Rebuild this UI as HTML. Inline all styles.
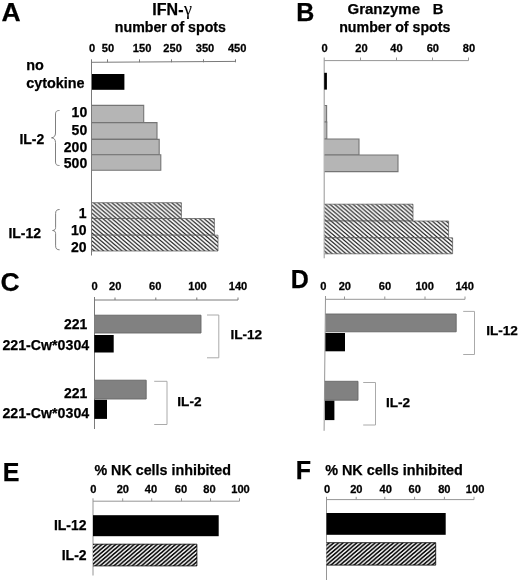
<!DOCTYPE html>
<html><head><meta charset="utf-8"><title>Figure</title>
<style>
html,body{margin:0;padding:0;background:#fff;}
svg{display:block;will-change:transform;}
text{font-family:"Liberation Sans",Arial,Helvetica,sans-serif;font-weight:bold;fill:#000;stroke:#000;stroke-width:0.25px;}
.ax{stroke:#7a7a7a;stroke-width:1;fill:none;}
.axl{stroke:#969696;stroke-width:1;fill:none;}
.br{stroke:#aaa;stroke-width:1;fill:none;}
.bc{stroke:#707070;stroke-width:0.9;fill:none;}
.lg{fill:#b6b6b6;stroke:#707070;stroke-width:1;}
.dg{fill:#808080;stroke:#6a6a6a;stroke-width:1;}
.bk{fill:#000;}
</style></head><body>
<svg width="520" height="581" viewBox="0 0 520 581">
<defs>
<pattern id="h1" width="4.6" height="3.95" patternUnits="userSpaceOnUse">
<rect width="4.6" height="3.95" fill="#fff"/>
<path d="M-4.6,-3.95 L9.2,7.9 M-4.6,0 L4.6,7.9 M0,-3.95 L9.2,3.95" stroke="#181818" stroke-width="1.2"/>
</pattern>
<pattern id="h2" width="4.6" height="3.95" patternUnits="userSpaceOnUse">
<rect width="4.6" height="3.95" fill="#fff"/>
<path d="M-4.6,7.9 L9.2,-3.95 M-4.6,3.95 L4.6,-3.95 M0,7.9 L9.2,0" stroke="#000" stroke-width="1.65"/>
</pattern>
</defs>
<rect width="520" height="581" fill="#fff"/>

<text x="1.6" y="21.2" font-size="26.5" text-anchor="start" >A</text>
<text x="296.2" y="20.8" font-size="25" text-anchor="start" >B</text>
<text x="0.6" y="290.8" font-size="26.5" text-anchor="start" >C</text>
<text x="290.7" y="287.5" font-size="25" text-anchor="start" >D</text>
<text x="2.7" y="481.2" font-size="25" text-anchor="start" >E</text>
<text x="295.7" y="478.6" font-size="25" text-anchor="start" >F</text>
<text x="152.2" y="15" font-size="16" text-anchor="start" >IFN</text>
<text x="178.2" y="15" font-size="16" text-anchor="start" >-</text>
<text x="184" y="15" font-size="18" style="font-weight:normal;stroke-width:0.1px;font-family:'Liberation Serif',serif">γ</text>
<text x="114.8" y="31.8" font-size="14.2" text-anchor="start" >number of spots</text>
<text transform="translate(92.2,51.8) scale(1.06,1)" font-size="10.5" text-anchor="middle">0</text>
<text transform="translate(108,51.8) scale(1.06,1)" font-size="10.5" text-anchor="middle">50</text>
<text transform="translate(142.1,51.8) scale(1.06,1)" font-size="10.5" text-anchor="middle">150</text>
<text transform="translate(172.6,51.8) scale(1.06,1)" font-size="10.5" text-anchor="middle">250</text>
<text transform="translate(205,51.8) scale(1.06,1)" font-size="10.5" text-anchor="middle">350</text>
<text transform="translate(237.2,51.8) scale(1.06,1)" font-size="10.5" text-anchor="middle">450</text>
<path class="ax" d="M91.5,255.5 V59.3 M91.5,62.3 L235.5,61.4"/>
<path class="ax" d="M107.5,59.3 V62.3"/>
<path class="ax" d="M139.5,59.3 V62.3"/>
<path class="ax" d="M171.5,59.3 V62.3"/>
<path class="ax" d="M203.5,59.3 V62.3"/>
<path class="ax" d="M235.5,59.3 V62.3"/>
<text x="26.2" y="70.2" font-size="14.4" text-anchor="start" >no</text>
<text x="26.2" y="88.4" font-size="14.4" text-anchor="start" >cytokine</text>
<rect class="bk" x="92" y="74" width="32.4" height="15.8"/>
<rect x="92" y="105.4" width="51.7" height="17.2" fill="#b5b5b5"/>
<path d="M92,105.4 H143.7 V122.6 H92" fill="none" stroke="#757575" stroke-width="1.1"/>
<rect x="92" y="122.6" width="65" height="16.8" fill="#b5b5b5"/>
<path d="M92,122.6 H157 V139.4 H92" fill="none" stroke="#757575" stroke-width="1.1"/>
<rect x="92" y="139.4" width="67.2" height="15.4" fill="#b5b5b5"/>
<path d="M92,139.4 H159.2 V154.8 H92" fill="none" stroke="#757575" stroke-width="1.1"/>
<rect x="92" y="154.8" width="68.8" height="15.5" fill="#b5b5b5"/>
<path d="M92,154.8 H160.8 V170.3 H92" fill="none" stroke="#757575" stroke-width="1.1"/>
<text x="87.2" y="116.8" font-size="14" text-anchor="end" >10</text>
<text x="87.2" y="134.9" font-size="14" text-anchor="end" >50</text>
<text x="87.2" y="151.8" font-size="14" text-anchor="end" >200</text>
<text x="87.2" y="168.3" font-size="14" text-anchor="end" >500</text>
<text x="19.4" y="143.6" font-size="14" text-anchor="start" >IL-2</text>
<path class="bc" d="M59.5,110.5 C56,110.5 55.5,112 55.5,115 V133 C55.5,136 54,137.5 51.5,137.8 C54,138 55.5,139.5 55.5,142.5 V161 C55.5,164 56,165.5 59.5,165.5"/>
<rect x="92" y="202.7" width="89.4" height="15.8" fill="url(#h1)"/>
<path d="M92,202.7 H181.4 V218.5 H92" fill="none" stroke="#555" stroke-width="0.7"/>
<rect x="92" y="218.5" width="122.4" height="16.7" fill="url(#h1)"/>
<path d="M92,218.5 H214.4 V235.2 H92" fill="none" stroke="#555" stroke-width="0.7"/>
<rect x="92" y="235.2" width="126" height="15.8" fill="url(#h1)"/>
<path d="M92,235.2 H218 V251 H92" fill="none" stroke="#555" stroke-width="0.7"/>
<text x="86.5" y="218" font-size="14" text-anchor="end" >1</text>
<text x="86.5" y="234.6" font-size="14" text-anchor="end" >10</text>
<text x="86.5" y="251.8" font-size="14" text-anchor="end" >20</text>
<text x="8.4" y="237.6" font-size="14" text-anchor="start" >IL-12</text>
<path class="bc" d="M59.6,209.5 C57,209.5 55.6,210.5 55.6,213.5 V227.5 C55.6,229.5 54.5,230.3 52.6,230.5 C54.5,230.7 55.6,231.5 55.6,233.5 V245.8 C55.6,248.8 57,249.8 59.6,249.8"/>
<text x="347.5" y="14" font-size="15" text-anchor="start" >Granzyme</text>
<text x="432.7" y="14" font-size="14.8" text-anchor="start" >B</text>
<text x="339.2" y="31.8" font-size="14.2" text-anchor="start" >number of spots</text>
<text transform="translate(324.5,51.8) scale(1.06,1)" font-size="10.5" text-anchor="middle">0</text>
<text transform="translate(361.4,51.8) scale(1.06,1)" font-size="10.5" text-anchor="middle">20</text>
<text transform="translate(396.5,51.8) scale(1.06,1)" font-size="10.5" text-anchor="middle">40</text>
<text transform="translate(432.8,51.8) scale(1.06,1)" font-size="10.5" text-anchor="middle">60</text>
<text transform="translate(468.9,51.8) scale(1.06,1)" font-size="10.5" text-anchor="middle">80</text>
<path class="axl" d="M324.2,258.3 V57.5 M324.2,60.6 H468.5"/>
<path class="axl" d="M360.5,57.5 V60.6"/>
<path class="axl" d="M396.5,57.5 V60.6"/>
<path class="axl" d="M432.5,57.5 V60.6"/>
<path class="axl" d="M468.5,57.5 V60.6"/>
<rect class="bk" x="324.2" y="72.8" width="2.7" height="16.8"/>
<rect x="324.7" y="105.5" width="1.9" height="16.5" fill="#b5b5b5"/>
<path d="M324.7,105.5 H326.6 V122 H324.7" fill="none" stroke="#757575" stroke-width="1.1"/>
<rect x="324.7" y="122" width="2.1" height="17" fill="#b5b5b5"/>
<path d="M324.7,122 H326.8 V139 H324.7" fill="none" stroke="#757575" stroke-width="1.1"/>
<rect x="324.7" y="139" width="34.3" height="16" fill="#b5b5b5"/>
<path d="M324.7,139 H359 V155 H324.7" fill="none" stroke="#757575" stroke-width="1.1"/>
<rect x="324.7" y="155" width="73.3" height="16.6" fill="#b5b5b5"/>
<path d="M324.7,155 H398 V171.6 H324.7" fill="none" stroke="#757575" stroke-width="1.1"/>
<rect x="324.7" y="204.2" width="88.3" height="16.8" fill="url(#h1)"/>
<path d="M324.7,204.2 H413 V221 H324.7" fill="none" stroke="#555" stroke-width="0.7"/>
<rect x="324.7" y="221" width="123.9" height="16.8" fill="url(#h1)"/>
<path d="M324.7,221 H448.6 V237.8 H324.7" fill="none" stroke="#555" stroke-width="0.7"/>
<rect x="324.7" y="237.8" width="127.9" height="16.0" fill="url(#h1)"/>
<path d="M324.7,237.8 H452.6 V253.8 H324.7" fill="none" stroke="#555" stroke-width="0.7"/>
<text transform="translate(94.6,290) scale(1.06,1)" font-size="10.5" text-anchor="middle">0</text>
<text transform="translate(115.2,290) scale(1.06,1)" font-size="10.5" text-anchor="middle">20</text>
<text transform="translate(155.2,290) scale(1.06,1)" font-size="10.5" text-anchor="middle">60</text>
<text transform="translate(197.5,290) scale(1.06,1)" font-size="10.5" text-anchor="middle">100</text>
<text transform="translate(238,290) scale(1.06,1)" font-size="10.5" text-anchor="middle">140</text>
<path class="ax" d="M94.5,429 V297 M94.5,300 H238"/>
<path class="ax" d="M115,297.5 V300"/>
<path class="ax" d="M155.8,297.5 V300"/>
<path class="ax" d="M196.8,297.5 V300"/>
<path class="ax" d="M238,297.5 V300"/>
<rect x="94.4" y="315.2" width="106.6" height="17.8" fill="#818181"/>
<path d="M94.4,315.2 H201 V333 H94.4" fill="none" stroke="#666" stroke-width="0.9"/>
<rect class="bk" x="94.3" y="335" width="19.400000000000006" height="17.5"/>
<rect x="94.4" y="380.2" width="51.8" height="18.8" fill="#818181"/>
<path d="M94.4,380.2 H146.2 V399 H94.4" fill="none" stroke="#666" stroke-width="0.9"/>
<rect class="bk" x="94.3" y="399.8" width="12.700000000000003" height="19.1"/>
<text x="87.4" y="329.4" font-size="14" text-anchor="end" >221</text>
<text x="89.2" y="350" font-size="14.2" text-anchor="end" >221-Cw*0304</text>
<text x="87.4" y="398" font-size="14" text-anchor="end" >221</text>
<text x="89.2" y="417.6" font-size="14.2" text-anchor="end" >221-Cw*0304</text>
<path class="br" d="M207,315 H218.8 V357.8 H207"/>
<path class="br" d="M154.2,381.3 H167 V424.5 H154.2"/>
<text x="230.4" y="339.2" font-size="13.6" text-anchor="start" >IL-12</text>
<text x="177.3" y="405.7" font-size="13.6" text-anchor="start" >IL-2</text>
<text transform="translate(323.3,290) scale(1.06,1)" font-size="10.5" text-anchor="middle">0</text>
<text transform="translate(344.8,290) scale(1.06,1)" font-size="10.5" text-anchor="middle">20</text>
<text transform="translate(385,290) scale(1.06,1)" font-size="10.5" text-anchor="middle">60</text>
<text transform="translate(424.7,290) scale(1.06,1)" font-size="10.5" text-anchor="middle">100</text>
<text transform="translate(464.7,290) scale(1.06,1)" font-size="10.5" text-anchor="middle">140</text>
<path class="axl" d="M325.5,296 L324.1,430.8 M325.5,299.3 H465"/>
<path class="axl" d="M344.5,296.5 V299.3"/>
<path class="axl" d="M384.8,296.5 V299.3"/>
<path class="axl" d="M425,296.5 V299.3"/>
<path class="axl" d="M465,296.5 V299.3"/>
<rect x="325.6" y="314" width="130.6" height="17.8" fill="#818181"/>
<path d="M325.6,314 H456.2 V331.8 H325.6" fill="none" stroke="#666" stroke-width="0.9"/>
<rect class="bk" x="325.4" y="333" width="19.600000000000023" height="18.3"/>
<rect x="324.8" y="381.3" width="33.2" height="18.9" fill="#818181"/>
<path d="M324.8,381.3 H358 V400.2 H324.8" fill="none" stroke="#666" stroke-width="0.9"/>
<rect class="bk" x="325" y="400.7" width="9.399999999999977" height="19.4"/>
<path class="br" d="M463.2,311.4 H474.5 V354.5 H463.2"/>
<path class="br" d="M363.2,382.5 H375.5 V425 H363.2"/>
<text x="486.2" y="334.8" font-size="13.6" text-anchor="start" >IL-12</text>
<text x="386" y="406.8" font-size="13.6" text-anchor="start" >IL-2</text>
<text x="94.4" y="475.2" font-size="14.3" text-anchor="start" >% NK cells inhibited</text>
<text transform="translate(93.4,493) scale(1.06,1)" font-size="10.5" text-anchor="middle">0</text>
<text transform="translate(122.8,493) scale(1.06,1)" font-size="10.5" text-anchor="middle">20</text>
<text transform="translate(151,493) scale(1.06,1)" font-size="10.5" text-anchor="middle">40</text>
<text transform="translate(181,493) scale(1.06,1)" font-size="10.5" text-anchor="middle">60</text>
<text transform="translate(209.5,493) scale(1.06,1)" font-size="10.5" text-anchor="middle">80</text>
<text transform="translate(240.5,493) scale(1.06,1)" font-size="10.5" text-anchor="middle">100</text>
<path class="axl" d="M93,575.5 V498.3 M93,501.2 H239.5"/>
<path class="axl" d="M122.7,498.3 V501.2"/>
<path class="axl" d="M151.7,498.3 V501.2"/>
<path class="axl" d="M181.5,498.3 V501.2"/>
<path class="axl" d="M210.5,498.3 V501.2"/>
<path class="axl" d="M239.5,498.3 V501.2"/>
<rect class="bk" x="93" y="515.2" width="125.69999999999999" height="21.0"/>
<rect x="93" y="544.2" width="103.9" height="21.7" fill="url(#h2)"/>
<path d="M93,544.2 H196.9 V565.9 H93" fill="none" stroke="#000" stroke-width="0.8"/>
<text x="86.6" y="530" font-size="14" text-anchor="end" >IL-12</text>
<text x="86.6" y="560" font-size="14" text-anchor="end" >IL-2</text>
<text x="325.2" y="474.8" font-size="14.4" text-anchor="start" >% NK cells inhibited</text>
<text transform="translate(327,493) scale(1.06,1)" font-size="10.5" text-anchor="middle">0</text>
<text transform="translate(356.3,493) scale(1.06,1)" font-size="10.5" text-anchor="middle">20</text>
<text transform="translate(385.7,493) scale(1.06,1)" font-size="10.5" text-anchor="middle">40</text>
<text transform="translate(414.7,493) scale(1.06,1)" font-size="10.5" text-anchor="middle">60</text>
<text transform="translate(444.3,493) scale(1.06,1)" font-size="10.5" text-anchor="middle">80</text>
<text transform="translate(475.1,493) scale(1.06,1)" font-size="10.5" text-anchor="middle">100</text>
<path class="axl" d="M326.5,580 V496.8 M326.5,499.6 H474"/>
<path class="axl" d="M356.2,496.8 V499.6"/>
<path class="axl" d="M384.8,496.8 V499.6"/>
<path class="axl" d="M414.6,496.8 V499.6"/>
<path class="axl" d="M444.4,496.8 V499.6"/>
<path class="axl" d="M474,496.8 V499.6"/>
<rect class="bk" x="326.5" y="513" width="119.19999999999999" height="21.799999999999955"/>
<rect x="326.5" y="542.7" width="109.2" height="22.4" fill="url(#h2)"/>
<path d="M326.5,542.7 H435.7 V565.1 H326.5" fill="none" stroke="#000" stroke-width="0.8"/>
</svg>
</body></html>
